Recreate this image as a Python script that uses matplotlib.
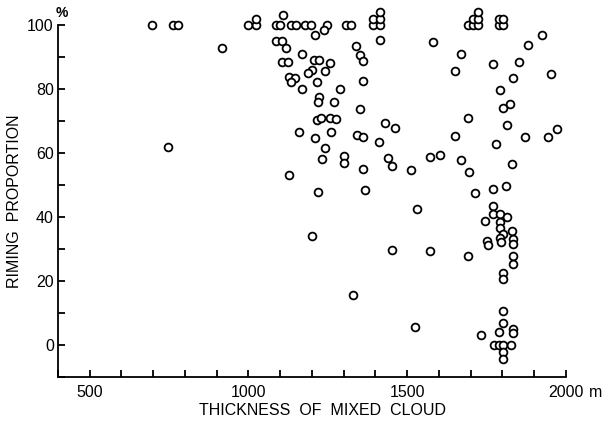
import matplotlib
matplotlib.use("Agg")
import matplotlib.pyplot as plt
import numpy as np

# thickness of mixed cloud (m) and riming proportion (%)
thickness = [
    697, 763, 777, 997, 1024, 1024, 1086, 1100, 1108, 1135, 1150, 1177, 1197, 1247,
    1307, 1324, 1391, 1413, 1391, 1413, 1413, 1690, 1708, 1724, 1708, 1724, 1724,
    1790, 1802, 1790, 1802,
    917, 747, 1211, 1237, 1087, 1107, 1119, 1168, 1105, 1123, 1205, 1221, 1258, 1199,
    1186, 1240, 1127, 1148, 1135, 1216, 1168, 1287, 1221, 1219, 1270, 1216, 1229, 1258,
    1277, 1158, 1260, 1211, 1240, 1232, 1127, 1219, 1200,
    1413, 1340, 1350, 1360, 1360, 1350, 1429, 1461, 1342, 1360, 1410, 1300, 1302, 1440,
    1453, 1360, 1511, 1368, 1572, 1602, 1581, 1670, 1650, 1926, 1879, 1851, 1770, 1832,
    1953, 1792, 1823, 1801, 1690, 1813, 1651, 1780, 1870, 1942, 1973, 1670, 1693, 1830,
    1712, 1770, 1811,
    1532, 1771, 1771, 1793, 1813, 1744, 1793, 1793, 1803, 1793, 1795, 1830, 1832, 1832,
    1751, 1753, 1832, 1832, 1453, 1572, 1690, 1802, 1802, 1330, 1802, 1802, 1790, 1832,
    1832, 1523, 1733, 1774, 1790, 1802, 1826, 1802, 1802,
]
riming = [
    100, 100, 100, 100, 100, 102, 100, 100, 103, 100, 100, 100, 100, 100,
    100, 100, 100, 100, 102, 102, 104, 100, 100, 100, 102, 102, 104,
    100, 100, 102, 102,
    92.7, 62, 96.9, 98.6, 95, 95, 92.7, 91.1, 88.5, 88.5, 89, 89, 88, 86,
    85, 85.6, 83.8, 83.6, 82.1, 82.1, 79.9, 79.9, 77.6, 75.8, 76, 70.3, 70.8, 70.8,
    70.6, 66.5, 66.5, 64.6, 61.5, 58, 53.1, 47.7, 34,
    95.3, 93.4, 90.6, 88.8, 82.5, 73.8, 69.5, 67.9, 65.6, 64.9, 63.3, 59.2, 56.8, 58.3,
    55.9, 55, 54.7, 48.6, 58.8, 59.4, 94.8, 90.8, 85.7, 96.9, 93.8, 88.5, 87.8, 83.6,
    84.6, 79.7, 75.2, 74, 70.8, 68.75, 65.3, 62.8, 65, 65, 67.5, 57.8, 54, 56.7,
    47.6, 48.75, 49.8,
    42.4, 43.4, 40.9, 40.9, 39.9, 38.75, 38.5, 36.5, 34.7, 33.6, 32.3, 35.7, 33, 31.6,
    32.5, 31.25, 27.8, 25.4, 29.7, 29.5, 27.8, 22.4, 20.6, 15.6, 10.7, 7, 4, 5,
    3.7, 5.6, 3, 0, 0, 0, 0, -2.3, -4.4,
]

x_ticks = [500, 1000, 1500, 2000]
y_ticks = [0, 20, 40, 60, 80, 100]

plt.rcParams['font.family'] = ['Liberation Sans', 'DejaVu Sans']

fig = plt.figure(figsize=(6.15, 4.21), dpi=100)
ax = fig.add_axes([0.0943, 0.1045, 0.826, 0.836])

ax.plot(thickness, riming, 'o', mfc='white', mec='black', ms=5.6, mew=1.3,
        linestyle='none', clip_on=False, zorder=3)

ax.set_xlim(400, 2000)
ax.set_ylim(-10, 100)
ax.spines['top'].set_visible(False)
ax.spines['right'].set_visible(False)
for s in ['left', 'bottom']:
    ax.spines[s].set_linewidth(1.3)

ax.set_xticks(np.arange(400, 2001, 100), minor=True)
ax.set_xticks(x_ticks)
ax.set_xticklabels([str(v) for v in x_ticks])
ax.set_yticks(np.arange(-10, 101, 10), minor=True)
ax.set_yticks(y_ticks)
ax.set_yticklabels([str(v) for v in y_ticks])
ax.tick_params(which='both', direction='in', length=5, width=1.3, labelsize=11.5)
ax.tick_params(axis='x', pad=6)
ax.tick_params(axis='y', pad=3)

# unit after the last x tick label
ax.annotate('m', xy=(2000, -10), xytext=(23, -8), textcoords='offset pixels',
            ha='left', va='top', fontsize=11.5, annotation_clip=False)
ax.annotate('%', xy=(400, 100), xytext=(4, 12), textcoords='offset pixels',
            ha='center', va='center', fontsize=10, fontweight='bold',
            annotation_clip=False)
ax.set_xlabel('THICKNESS  OF  MIXED  CLOUD', fontsize=11.5, labelpad=5)
ax.xaxis.set_label_coords(0.52, -0.075)
ax.set_ylabel('RIMING  PROPORTION', fontsize=11.5, labelpad=4)

fig.savefig('out.png', dpi=100)
